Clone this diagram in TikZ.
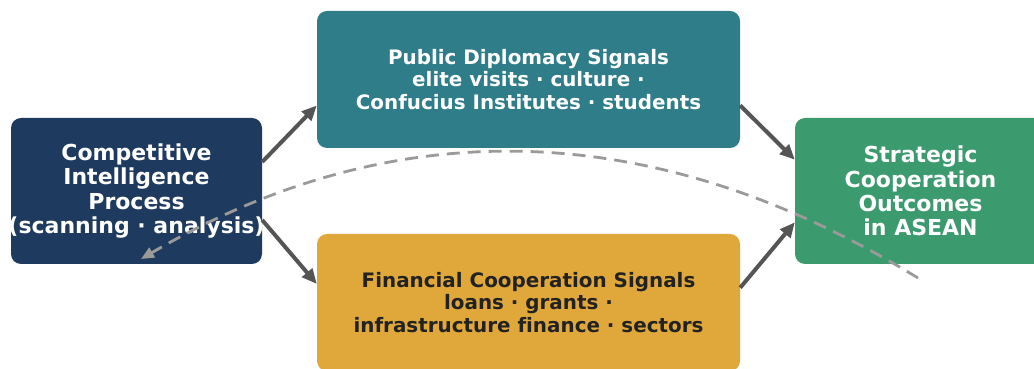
\documentclass[tikz,border=0pt]{standalone}
\usepackage{fontspec}
\setmainfont[Ligatures=NoCommon]{DejaVu Sans}
\usetikzlibrary{arrows.meta, positioning, calc}
\definecolor{procbg}{HTML}{1F3A5F}
\definecolor{dipbg}{HTML}{2E7D89}
\definecolor{finbg}{HTML}{E0A83B}
\definecolor{outbg}{HTML}{3C9A6F}
\definecolor{darktext}{HTML}{222222}
\definecolor{arrowgray}{HTML}{555555}
\definecolor{loopgray}{HTML}{9A9A9A}
\tikzset{
  procbox/.style={
    fill=procbg,
    rounded corners=10pt,
    align=center,
    text=white,
    font=\bfseries\fontsize{22}{24.3}\selectfont,
    inner ysep=0pt,
    inner xsep=-6pt,
    minimum width=251pt,
    minimum height=146pt
  },
  dipbox/.style={
    fill=dipbg,
    rounded corners=10pt,
    align=center,
    text=white,
    font=\bfseries\fontsize{19.9}{22.5}\selectfont,
    inner sep=0pt,
    minimum width=423pt,
    minimum height=137pt
  },
  finbox/.style={
    fill=finbg,
    rounded corners=10pt,
    align=center,
    text=darktext,
    font=\bfseries\fontsize{19.9}{22.5}\selectfont,
    inner sep=0pt,
    minimum width=423pt,
    minimum height=137pt
  },
  outbox/.style={
    fill=outbg,
    rounded corners=10pt,
    align=center,
    text=white,
    font=\bfseries\fontsize{22}{24.3}\selectfont,
    inner sep=0pt,
    minimum width=251pt,
    minimum height=146pt
  },
  arrowg/.style={
    -{Triangle[length=15pt, width=13pt]},
    line width=4pt,
    color=arrowgray
  },
  arrowfb/.style={
    -{Triangle[length=13pt, width=11pt]},
    line width=2.8pt,
    color=loopgray,
    dash pattern=on 13pt off 8pt
  }
}

\begin{document}
\begin{tikzpicture}[x=1pt, y=1pt]

  \useasboundingbox (0,0) rectangle (1034,369);

  % ==================== BOXES ====================
  \node (ci) [procbox] at (136.5,178) {Competitive\\Intelligence\\Process\\(scanning · analysis)};

  \node (pd) [dipbox] at (528.5,289.5) {Public Diplomacy Signals\\elite visits · culture ·\\Confucius Institutes · students};

  \node (fc) [finbox] at (528.5,66.5) {Financial Cooperation Signals\\loans · grants ·\\infrastructure finance · sectors};

  \node (sc) [outbox] at (920.5,178) {Strategic\\Cooperation\\Outcomes\\in ASEAN};

  % Signal connectors
  \draw [arrowg] (ci.13) -- (pd.187);
  \draw [arrowg] (ci.347) -- (fc.175);
  \draw [arrowg] (pd.353) -- (sc.166);
  \draw [arrowg] (fc.4.5) -- (sc.194);

  % Feedback loop
  \coordinate (fbstart) at (918,91);
  \coordinate (fbend) at (141,110);
  \draw [arrowfb] (fbstart) .. controls (655,252) and (396,259) .. (fbend);

\end{tikzpicture}
\end{document}
